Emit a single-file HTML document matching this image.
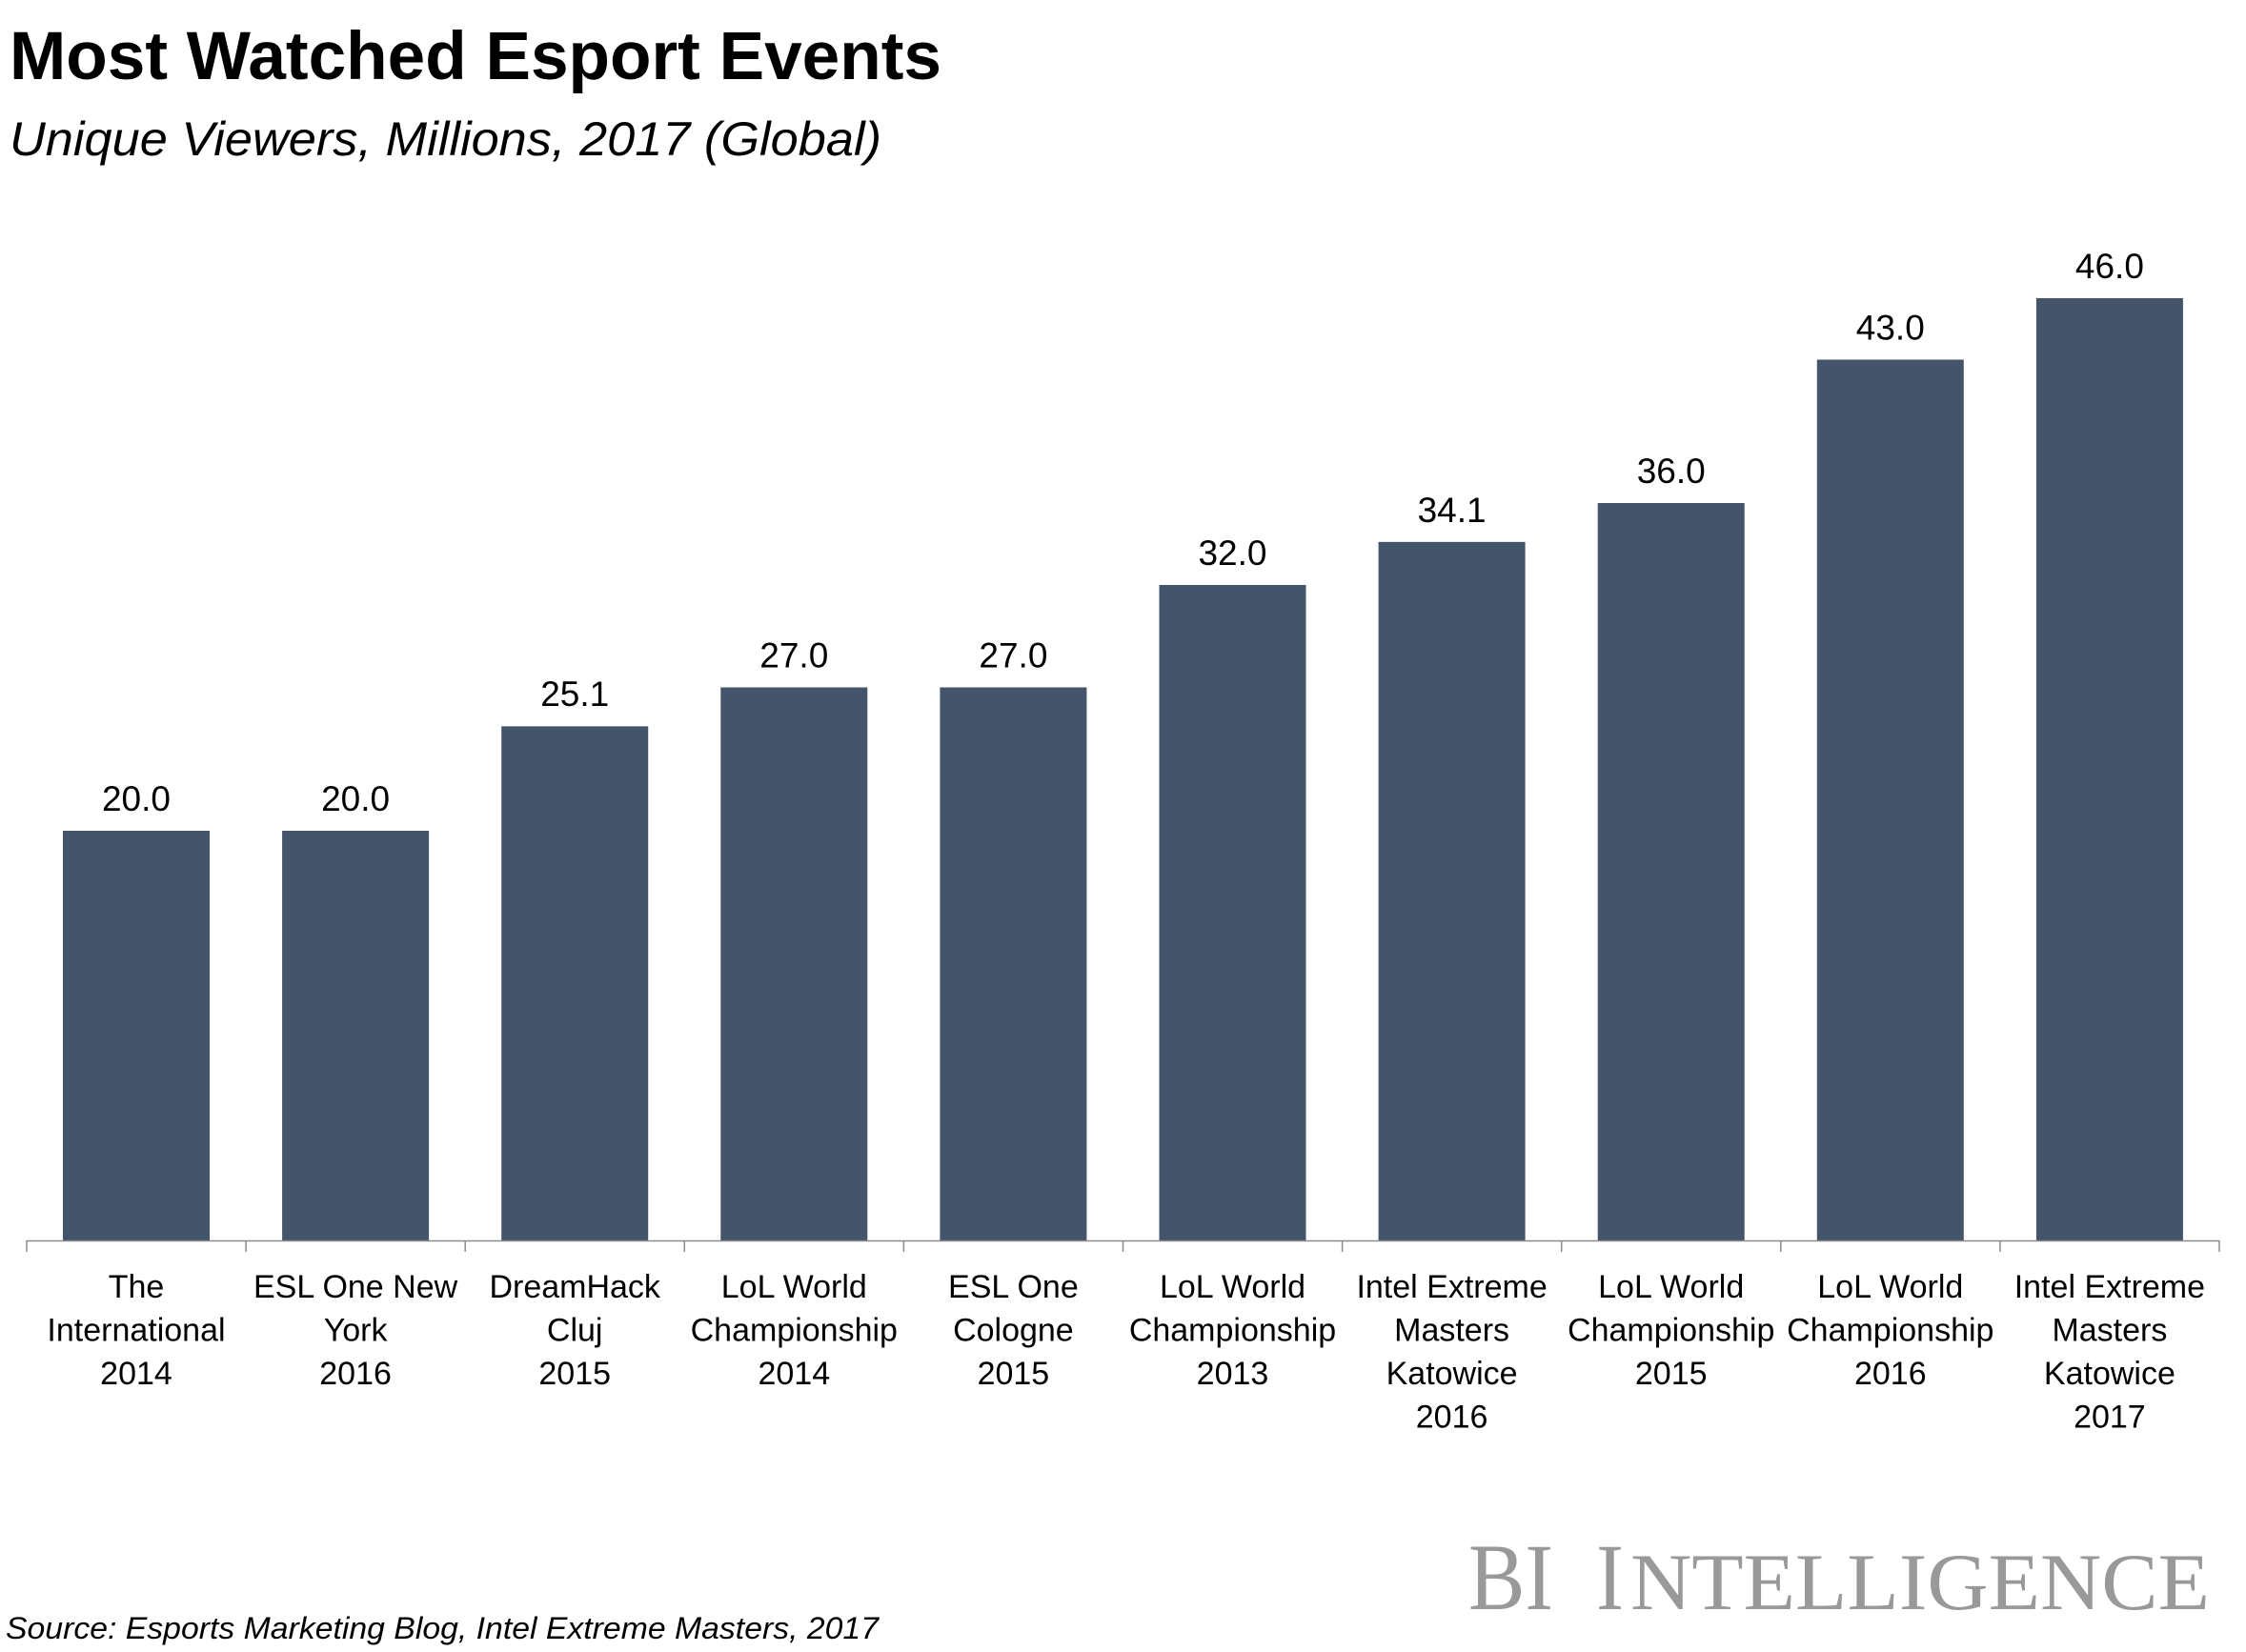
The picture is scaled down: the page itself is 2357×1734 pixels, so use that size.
<!DOCTYPE html>
<html>
<head>
<meta charset="utf-8">
<style>
  html, body { margin: 0; padding: 0; background: #ffffff; }
  svg { display: block; }
  .t { font-family: "Liberation Sans", Arial, sans-serif; fill: #000; }
</style>
</head>
<body>
<svg width="2357" height="1734" viewBox="0 0 2357 1734" xmlns="http://www.w3.org/2000/svg">
  <rect x="0" y="0" width="2357" height="1734" fill="#ffffff"/>

  <!-- Title -->
  <text class="t" x="10" y="83" font-size="71" font-weight="bold" textLength="978" lengthAdjust="spacingAndGlyphs">Most Watched Esport Events</text>
  <text class="t" x="10" y="163" font-size="50" font-style="italic" textLength="915" lengthAdjust="spacingAndGlyphs">Unique Viewers, Millions, 2017 (Global)</text>

  <!-- Bars -->
  <g fill="#44546A">
    <rect x="66" y="872" width="154" height="430"/>
    <rect x="296.1" y="872" width="154" height="430"/>
    <rect x="526.2" y="762.35" width="154" height="539.65"/>
    <rect x="756.3" y="721.5" width="154" height="580.5"/>
    <rect x="986.4" y="721.5" width="154" height="580.5"/>
    <rect x="1216.5" y="614" width="154" height="688"/>
    <rect x="1446.6" y="568.85" width="154" height="733.15"/>
    <rect x="1676.7" y="528" width="154" height="774"/>
    <rect x="1906.8" y="377.5" width="154" height="924.5"/>
    <rect x="2136.9" y="313" width="154" height="989"/>
  </g>

  <!-- Axis -->
  <g stroke="#8c8c8c" stroke-width="1.5" fill="none">
    <line x1="28" y1="1302.5" x2="2329" y2="1302.5"/>
    <line x1="28" y1="1302" x2="28" y2="1314"/>
    <line x1="258.1" y1="1302" x2="258.1" y2="1314"/>
    <line x1="488.2" y1="1302" x2="488.2" y2="1314"/>
    <line x1="718.3" y1="1302" x2="718.3" y2="1314"/>
    <line x1="948.4" y1="1302" x2="948.4" y2="1314"/>
    <line x1="1178.5" y1="1302" x2="1178.5" y2="1314"/>
    <line x1="1408.6" y1="1302" x2="1408.6" y2="1314"/>
    <line x1="1638.7" y1="1302" x2="1638.7" y2="1314"/>
    <line x1="1868.8" y1="1302" x2="1868.8" y2="1314"/>
    <line x1="2098.9" y1="1302" x2="2098.9" y2="1314"/>
    <line x1="2329" y1="1302" x2="2329" y2="1314"/>
  </g>

  <!-- Data labels -->
  <g class="t" font-size="37" text-anchor="middle">
    <text x="143" y="851">20.0</text>
    <text x="373.1" y="851">20.0</text>
    <text x="603.2" y="741">25.1</text>
    <text x="833.3" y="700.5">27.0</text>
    <text x="1063.4" y="700.5">27.0</text>
    <text x="1293.5" y="593">32.0</text>
    <text x="1523.6" y="548">34.1</text>
    <text x="1753.7" y="507">36.0</text>
    <text x="1983.8" y="356.5">43.0</text>
    <text x="2213.9" y="292">46.0</text>
  </g>

  <!-- Category labels -->
  <g class="t" font-size="34" text-anchor="middle">
    <text x="143" y="1362">The</text>
    <text x="143" y="1407.5">International</text>
    <text x="143" y="1453">2014</text>

    <text x="373.1" y="1362">ESL One New</text>
    <text x="373.1" y="1407.5">York</text>
    <text x="373.1" y="1453">2016</text>

    <text x="603.2" y="1362">DreamHack</text>
    <text x="603.2" y="1407.5">Cluj</text>
    <text x="603.2" y="1453">2015</text>

    <text x="833.3" y="1362">LoL World</text>
    <text x="833.3" y="1407.5">Championship</text>
    <text x="833.3" y="1453">2014</text>

    <text x="1063.4" y="1362">ESL One</text>
    <text x="1063.4" y="1407.5">Cologne</text>
    <text x="1063.4" y="1453">2015</text>

    <text x="1293.5" y="1362">LoL World</text>
    <text x="1293.5" y="1407.5">Championship</text>
    <text x="1293.5" y="1453">2013</text>

    <text x="1523.6" y="1362">Intel Extreme</text>
    <text x="1523.6" y="1407.5">Masters</text>
    <text x="1523.6" y="1453">Katowice</text>
    <text x="1523.6" y="1498.5">2016</text>

    <text x="1753.7" y="1362">LoL World</text>
    <text x="1753.7" y="1407.5">Championship</text>
    <text x="1753.7" y="1453">2015</text>

    <text x="1983.8" y="1362">LoL World</text>
    <text x="1983.8" y="1407.5">Championship</text>
    <text x="1983.8" y="1453">2016</text>

    <text x="2213.9" y="1362">Intel Extreme</text>
    <text x="2213.9" y="1407.5">Masters</text>
    <text x="2213.9" y="1453">Katowice</text>
    <text x="2213.9" y="1498.5">2017</text>
  </g>

  <!-- BI Intelligence logo -->
  <g font-family="'Liberation Serif', 'Times New Roman', serif" fill="#999999">
    <text x="1541" y="1689" font-size="100" textLength="89" lengthAdjust="spacingAndGlyphs">BI</text>
    <text x="1675" y="1689" font-size="100" textLength="29" lengthAdjust="spacingAndGlyphs">I</text>
    <text x="1711" y="1689" font-size="85" textLength="608" lengthAdjust="spacingAndGlyphs">NTELLIGENCE</text>
  </g>

  <!-- Source -->
  <text class="t" x="6" y="1720" font-size="32" font-style="italic" textLength="916" lengthAdjust="spacingAndGlyphs">Source: Esports Marketing Blog, Intel Extreme Masters, 2017</text>
</svg>
</body>
</html>
